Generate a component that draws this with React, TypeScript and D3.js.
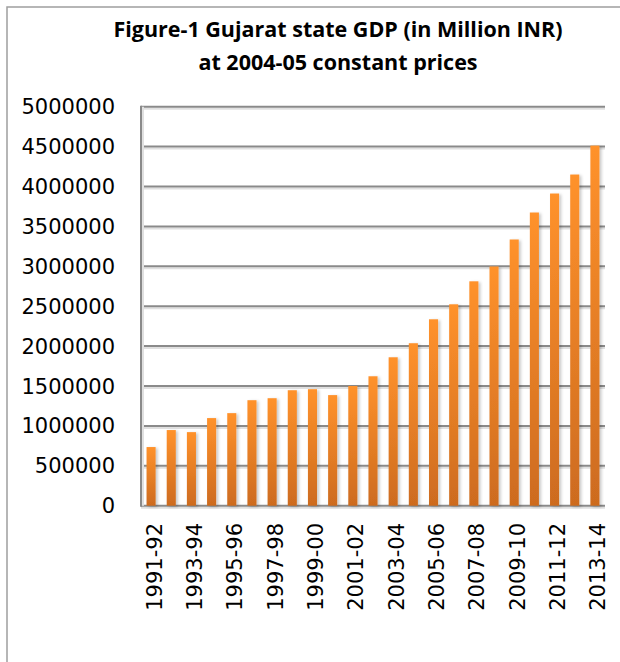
import React from "react";
import * as d3 from "d3";

const years: string[] = [
  "1991-92", "1992-93", "1993-94", "1994-95", "1995-96", "1996-97", "1997-98", "1998-99",
  "1999-00", "2000-01", "2001-02", "2002-03", "2003-04", "2004-05", "2005-06", "2006-07",
  "2007-08", "2008-09", "2009-10", "2010-11", "2011-12", "2012-13", "2013-14",
];
const gdp: number[] = [
  735000, 948000, 922000, 1098000, 1160000, 1322000, 1347000, 1447000,
  1460000, 1386000, 1500000, 1622000, 1860000, 2036000, 2336000, 2524000,
  2812000, 2998000, 3336000, 3674000, 3912000, 4150000, 4512000,
];
const yTicks: number[] = [0, 500000, 1000000, 1500000, 2000000, 2500000, 3000000, 3500000, 4000000, 4500000, 5000000];
const titleLines: string[] = ["Figure-1 Gujarat state GDP (in Million INR)", "at 2004-05 constant prices"];

const W = 620;
const H = 662;
const left = 141;
const right = 605;
const top = 106.7;
const bottom = 505.7;

export default function App() {
  const x = d3.scaleBand<string>().domain(years).range([left, right]).paddingInner(0.55).paddingOuter(0.275);
  const y = d3.scaleLinear().domain([0, 5000000]).range([bottom, top]);
  const axisFont = "'DejaVu Sans', sans-serif";
  return (
    <svg width={W} height={H} style={{ position: "absolute", left: 0, top: 0, background: "#fff" }}>
      <defs>
        <linearGradient id="barGrad" x1="0" y1="0" x2="0" y2="1">
          <stop offset="0%" stopColor="#FF922C" />
          <stop offset="100%" stopColor="#CD6B1F" />
        </linearGradient>
        <filter id="barShadow" x="-50%" y="-10%" width="200%" height="120%">
          <feDropShadow dx="2" dy="1" stdDeviation="1.6" floodColor="#000" floodOpacity="0.22" />
        </filter>
      </defs>
      <rect x={0} y={0} width={W} height={H} fill="#fff" />
      <rect x={7} y={7} width={W + 20} height={H + 20} fill="none" stroke="#9f9f9f" strokeWidth={1.5} />
      {titleLines.map((t, i) => (
        <text
          key={t}
          x={338}
          y={37 + i * 33}
          textAnchor="middle"
          fontFamily="'Open Sans', Lato, sans-serif"
          fontWeight={700}
          fontSize={21.5}
          fill="#000"
        >
          {t}
        </text>
      ))}
      {yTicks.map((v) => (
        <g key={v}>
          <line x1={left} x2={right} y1={y(v) + 2} y2={y(v) + 2} stroke="#e0e0e0" strokeWidth={2} />
          <line x1={left} x2={right} y1={y(v)} y2={y(v)} stroke="#8a8a8a" strokeWidth={2} />
          <text
            x={115}
            y={y(v)}
            dy="0.36em"
            textAnchor="end"
            fontFamily={axisFont}
            fontSize={21}
            fill="#000"
          >
            {v}
          </text>
        </g>
      ))}
      <line x1={left + 2} x2={left + 2} y1={top} y2={bottom} stroke="#e0e0e0" strokeWidth={2} />
      <line x1={left} x2={left} y1={top - 1} y2={bottom + 1} stroke="#8a8a8a" strokeWidth={2} />
      {gdp.map((v, i) => (
        <rect
          key={years[i]}
          x={x(years[i])}
          y={y(v)}
          width={x.bandwidth()}
          height={y(0) - y(v)}
          fill="url(#barGrad)"
          filter="url(#barShadow)"
        />
      ))}
      {years.map((yr, i) =>
        i % 2 === 0 ? (
          <text
            key={yr}
            transform={`translate(${(x(yr) as number) + x.bandwidth() / 2 + 3},523) rotate(-90)`}
            dy="0.36em"
            textAnchor="end"
            fontFamily={axisFont}
            fontSize={21}
            fill="#000"
          >
            {yr}
          </text>
        ) : null
      )}
    </svg>
  );
}
